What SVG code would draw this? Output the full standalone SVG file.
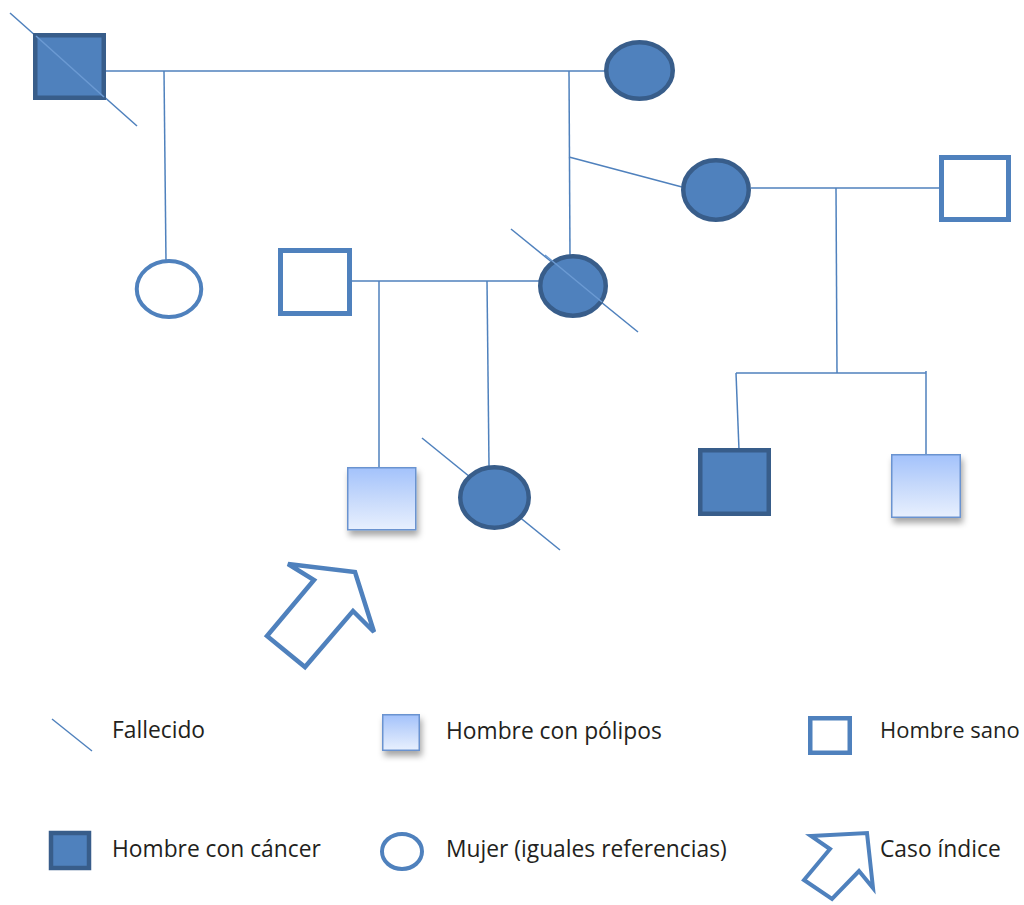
<svg xmlns="http://www.w3.org/2000/svg" width="1024" height="905" viewBox="0 0 1024 905">
<defs>
<linearGradient id="polyp" x1="0" y1="0" x2="0" y2="1">
<stop offset="0" stop-color="#a3c2fb"/>
<stop offset="0.45" stop-color="#c3d7fb"/>
<stop offset="1" stop-color="#e8f0fe"/>
</linearGradient>
<filter id="shadow" x="-20%" y="-20%" width="150%" height="160%">
<feDropShadow dx="2" dy="5" stdDeviation="3" flood-color="#000" flood-opacity="0.35"/>
</filter>
<style>
.ln{stroke:#4f81bd;stroke-width:1.5;fill:none}
.dec{stroke:#4f81bd;stroke-width:1.5;fill:none}
.decin{stroke:#6b9ad3;stroke-width:1.5;fill:none}
.cancer{fill:#4f81bd;stroke:#385d8a;stroke-width:4.5}
.healthy{fill:#fff;stroke:#4f81bd;stroke-width:5}
.woman{fill:#fff;stroke:#4f81bd;stroke-width:4}
.polyp{fill:url(#polyp);stroke:#6a93d0;stroke-width:1.5;filter:url(#shadow)}
.arrow{fill:#fff;stroke:#4f81bd;stroke-width:4.5;stroke-linejoin:miter}
.lbl{font-family:"Open Sans","Liberation Sans",sans-serif;font-size:22.8px;fill:#231f20}
</style>
</defs>
<rect width="1024" height="905" fill="#fff"/>

<g id="connectors">
<line class="ln" x1="106" y1="71" x2="606" y2="71"/>
<line class="ln" x1="164" y1="71" x2="166" y2="261"/>
<line class="ln" x1="569" y1="71" x2="570" y2="256"/>
<line class="ln" x1="569" y1="157" x2="682" y2="187"/>
<line class="ln" x1="751" y1="188" x2="940" y2="188"/>
<line class="ln" x1="836" y1="188" x2="837" y2="373"/>
<line class="ln" x1="736" y1="373" x2="926" y2="373"/>
<line class="ln" x1="736" y1="373" x2="739" y2="450"/>
<line class="ln" x1="926" y1="371" x2="926" y2="455"/>
<line class="ln" x1="352" y1="281" x2="539" y2="281"/>
<line class="ln" x1="379" y1="281" x2="379" y2="468"/>
<line class="ln" x1="487" y1="281" x2="489" y2="466"/>
</g>

<g id="grandfather">
<line class="dec" x1="10" y1="13" x2="137" y2="126"/>
<rect class="cancer" x="35.25" y="35.25" width="68.5" height="62.5"/>
<line class="decin" x1="36" y1="36" x2="104" y2="97"/>
</g>

<g id="grandmother">
<ellipse class="cancer" cx="639.5" cy="70.5" rx="33.25" ry="28.25"/>
</g>

<g id="aunt">
<ellipse class="woman" cx="169" cy="289" rx="32.25" ry="28"/>
</g>

<g id="mother">
<line class="dec" x1="511" y1="229" x2="638" y2="332"/>
<ellipse class="cancer" cx="573" cy="286" rx="32.75" ry="29.75"/>
<line class="decin" x1="545" y1="255" x2="602" y2="302"/>
</g>

<g id="father">
<rect class="healthy" x="280.5" y="250.5" width="69" height="63"/>
</g>

<g id="aunt2">
<ellipse class="cancer" cx="716" cy="190" rx="32.75" ry="29.75"/>
</g>

<g id="uncle-in-law">
<rect class="healthy" x="941.5" y="157.5" width="67" height="62"/>
</g>

<g id="index-case">
<rect class="polyp" x="347.75" y="467.75" width="68" height="62"/>
</g>

<g id="sister">
<line class="dec" x1="422" y1="438" x2="560" y2="550"/>
<ellipse class="cancer" cx="494.5" cy="497.5" rx="34.25" ry="30.25"/>
</g>

<g id="cousin-cancer">
<rect class="cancer" x="700.25" y="450.25" width="68.5" height="63.5"/>
</g>

<g id="cousin-polyp">
<rect class="polyp" x="891.75" y="454.75" width="68.5" height="62.5"/>
</g>

<g id="index-arrow">
<polygon class="arrow" points="288,564 355,572 374,632 353,611 305,667 267,636 314,580"/>
</g>

<g id="legend">
<line class="ln" x1="52" y1="719" x2="92" y2="751"/>
<text class="lbl" x="112" y="738">Fallecido</text>
<rect class="polyp" x="382.75" y="714.75" width="36.5" height="35.5"/>
<text class="lbl" x="446" y="739">Hombre con pólipos</text>
<rect class="healthy" x="810.25" y="718.25" width="39.5" height="34.5" style="stroke-width:4.5"/>
<text class="lbl" x="880" y="738" style="font-size:22px">Hombre sano</text>
<rect class="cancer" x="51" y="833" width="38" height="35"/>
<text class="lbl" x="112" y="857">Hombre con cáncer</text>
<ellipse class="woman" cx="402" cy="851.5" rx="20" ry="17.5"/>
<text class="lbl" x="446" y="857">Mujer (iguales referencias)</text>
<polygon class="arrow" points="811,836 867,833 873,888 859,871 832,899 804,880 830,849" style="stroke-width:4"/>
<text class="lbl" x="880" y="857">Caso índice</text>
</g>
</svg>
